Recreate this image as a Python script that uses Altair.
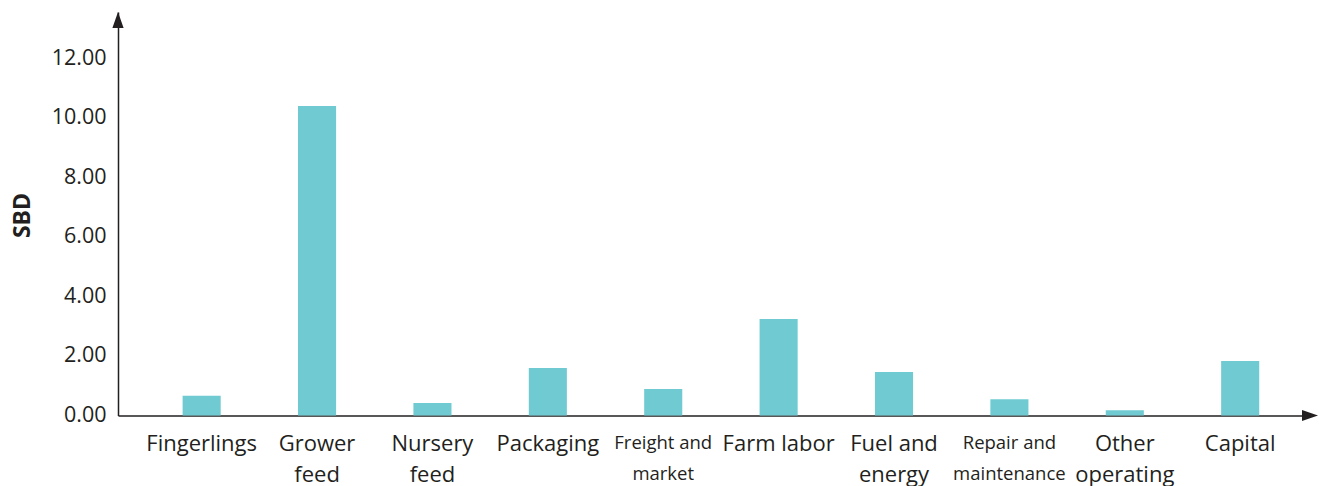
import altair as alt
import pandas as pd

# Cost components per kg (SBD)
categories = [
    "Fingerlings", "Grower\nfeed", "Nursery\nfeed", "Packaging",
    "Freight and\nmarket", "Farm labor", "Fuel and\nenergy",
    "Repair and\nmaintenance", "Other\noperating", "Capital",
]
values = [0.66, 10.40, 0.42, 1.60, 0.89, 3.24, 1.46, 0.55, 0.18, 1.83]
y_ticks = [0, 2, 4, 6, 8, 10, 12]

df = pd.DataFrame({"item": categories, "cost": values})

FONT = "Open Sans"
W, H = 1192, 403.5

x_scale = alt.Scale(paddingInner=0.67, paddingOuter=0.5, align=0.56)
y_scale = alt.Scale(domain=[0, 13.56], nice=False, zero=True)

narrow = "datum.value == 'Freight and\\nmarket' || datum.value == 'Repair and\\nmaintenance'"

bars = alt.Chart(df).mark_bar(color="#6fcbd1").encode(
    x=alt.X(
        "item:N", sort=categories, scale=x_scale,
        axis=alt.Axis(
            title=None, labelAngle=0, ticks=False, domain=True,
            domainColor="#231f20", domainWidth=1.5,
            labelExpr="split(datum.label, '\\n')",
            labelFont=FONT,
            labelFontSize=alt.expr(f"{narrow} ? 18.5 : 22"),
            labelColor="#231f20", labelLineHeight=31, labelPadding=18,
        ),
    ),
    y=alt.Y(
        "cost:Q", scale=y_scale,
        axis=alt.Axis(
            title="SBD", values=y_ticks, format=".2f", grid=False,
            ticks=False, domain=True, domainColor="#231f20", domainWidth=1.5,
            labelFont=FONT, labelFontSize=21.5, labelColor="#231f20",
            labelPadding=12,
            titleFont=FONT, titleFontSize=23, titleFontWeight="bold",
            titleColor="#231f20", titleX=-96, titleY=203,
            titleAlign="center", titleBaseline="middle",
        ),
    ),
)

# Arrowheads at the ends of both axes
arrow_up = alt.Chart(df.head(1)).mark_point(
    shape="M0,-1L0.7,1L-0.7,1Z", filled=True, color="#231f20", opacity=1, size=256
).encode(x=alt.value(0), y=alt.value(8))

arrow_right = alt.Chart(df.head(1)).mark_point(
    shape="M1,0L-1,0.7L-1,-0.7Z", filled=True, color="#231f20", opacity=1, size=256
).encode(x=alt.value(W), y=alt.value(H))

chart = alt.layer(bars, arrow_up, arrow_right).properties(
    width=W, height=H,
    autosize=alt.AutoSizeParams(type="none"),
    padding={"left": 118, "top": 12, "right": 9, "bottom": 70},
).configure(background="white").configure_view(stroke=None)

chart.save("out.html", embed_options={"renderer": "svg", "actions": False})
